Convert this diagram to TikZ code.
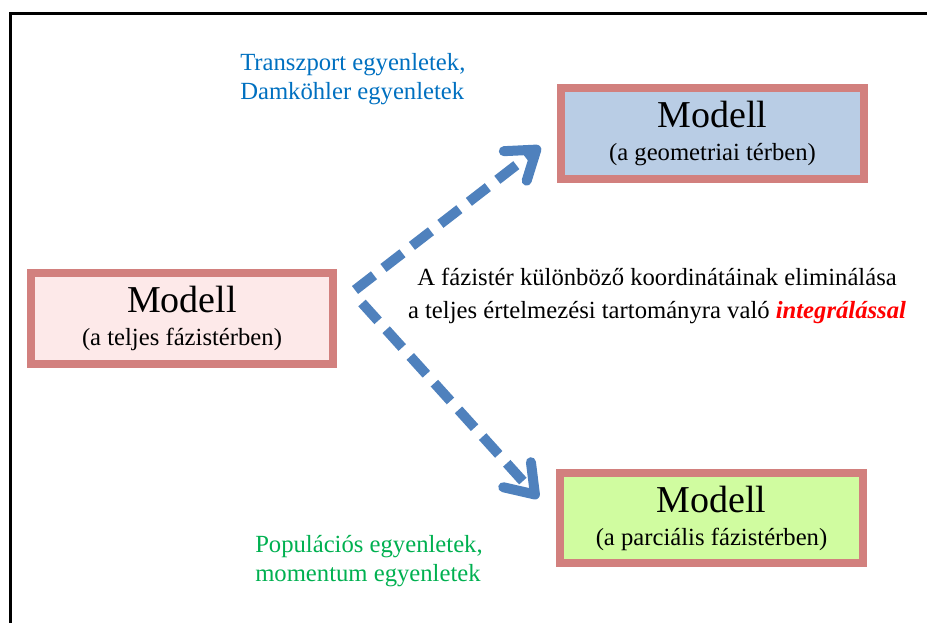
\documentclass[tikz,border=0pt]{standalone}
\usepackage{fontspec}
\setmainfont{Liberation Serif}
\usetikzlibrary{arrows.meta}
\definecolor{keret}{RGB}{210,128,126}
\definecolor{rozsa}{RGB}{253,233,233}
\definecolor{egkek}{RGB}{185,205,229}
\definecolor{zold}{RGB}{208,252,160}
\definecolor{nyilkek}{RGB}{79,129,189}
\definecolor{kek}{RGB}{0,112,192}
\definecolor{szzold}{RGB}{0,176,80}
\definecolor{piros}{RGB}{255,0,0}

\begin{document}
\begin{tikzpicture}[x=0.75pt,y=-0.75pt,
    modell/.style={draw=keret,line width=6pt,minimum width=227pt,minimum height=68pt,align=center,inner sep=0pt,
      font=\fontsize{18.5}{24.75}\selectfont},
    nyil/.style={draw=nyilkek,line width=7.5pt,dash pattern=on 18pt off 9pt,-{Straight Barb[length=20pt,width=28pt,round]}},
    szoveg/.style={inner sep=0pt,font=\fontsize{18.5}{21.5}\selectfont}]
    \useasboundingbox (0,0) rectangle (927,623);
    \draw[line width=2.5pt] (10.5,630) -- (10.5,13.5) -- (935,13.5);
    \node[modell,fill=rozsa] (teljes) at (182,318.5) {{\fontsize{28.5}{30}\selectfont Modell}\\(a teljes fázistérben)};
    \node[modell,fill=egkek] (geom) at (712.5,133.5) {{\fontsize{28.5}{30}\selectfont Modell}\\(a geometriai térben)};
    \node[modell,fill=zold] (parc) at (711.5,518) {{\fontsize{28.5}{30}\selectfont Modell}\\(a parciális fázistérben)};
    \coordinate (fel) at (355,290);
    \coordinate (le) at (362,303);
    \draw[nyil,shorten >=16pt] (fel) -- (geom.west);
    \draw[nyil,shorten >=20pt] (le) -- (parc.west);
    \node[szoveg,anchor=north west,align=left,text=kek] (transzport) at (240,53) {Transzport egyenletek,\\Damköhler egyenletek};
    \node[szoveg,anchor=north west,align=left,text=szzold] (populacio) at (255,535) {Populációs egyenletek,\\momentum egyenletek};
    \node[szoveg,anchor=north,align=center,font=\fontsize{18.5}{24.75}\selectfont] (elim) at (657,268) {A fázistér különböző koordinátáinak eliminálása\\a teljes értelmezési tartományra való \textcolor{piros}{\textbf{\textit{integrálással}}}};
\end{tikzpicture}
\end{document}
